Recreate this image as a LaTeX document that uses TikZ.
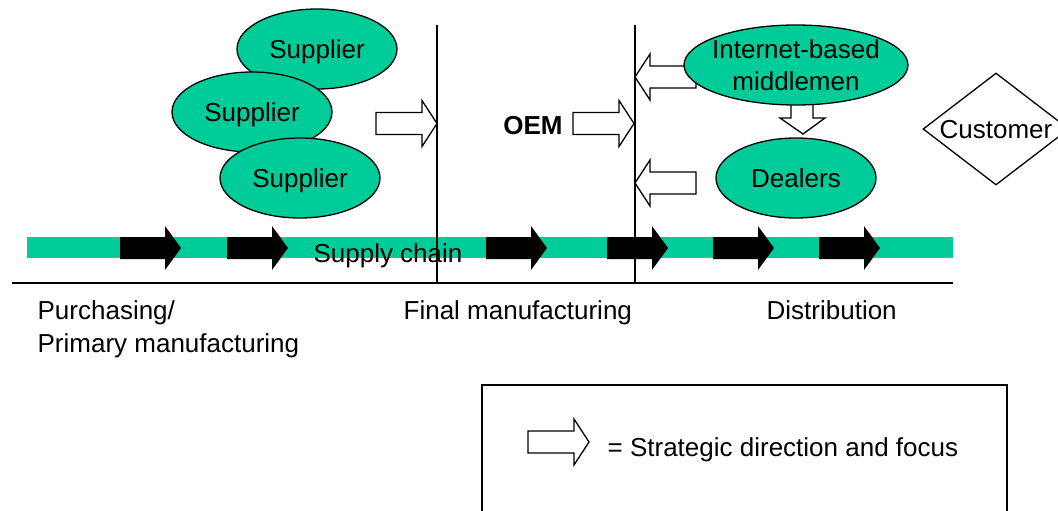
\documentclass[tikz,border=0pt]{standalone}
\usepackage{fontspec}
\setmainfont{Liberation Sans}
\usetikzlibrary{shapes.geometric}
\definecolor{chaingreen}{RGB}{0,204,153}
\newcommand\chainfont{\fontsize{26}{32}\selectfont}
\tikzset{
  chainpic/.style={x=1pt,y=-1pt,line width=1.3pt,font=\chainfont},
  player/.style={ellipse,draw,fill=chaingreen,inner sep=0pt,text depth=0pt,minimum width=160pt,minimum height=80pt},
  hollow/.style={draw,fill=white,line join=miter},
  stage/.style={anchor=base west,inner sep=0pt},
}

\begin{document}
\begin{tikzpicture}[chainpic]
    \clip (0,0) rectangle (1058,511);
    % supply chain bar and its flow arrows
    \fill[chaingreen] (27,237) rectangle (953,258);
    \foreach \x in {120,227,486,607,713,819}
      \fill (\x,237) -- ({\x+45},237) -- ({\x+45},226) -- ({\x+61},248) -- ({\x+45},270) -- ({\x+45},259) -- (\x,259) -- cycle;
    \node[text depth=0pt] (chain) at (388,253) {Supply chain};
    % stage borders and base line
    \draw (437,25) -- (437,283);
    \draw (635,25) -- (635,283);
    \draw[line width=1.8pt] (12,283) -- (953,283);
    % strategic direction arrows
    \foreach \x/\y in {376/123.5,573/123.5,528/442}
      \draw[hollow] (\x,{\y-11}) -- ({\x+46},{\y-11}) -- ({\x+46},{\y-23}) -- ({\x+61},\y) -- ({\x+46},{\y+23}) -- ({\x+46},{\y+11}) -- (\x,{\y+11}) -- cycle;
    \foreach \y in {77,183}
      \draw[hollow] (635,\y) -- (650,{\y-23}) -- (650,{\y-11}) -- (696,{\y-11}) -- (696,{\y+11}) -- (650,{\y+11}) -- (650,{\y+23}) -- cycle;
    \draw[hollow] (791,95) -- (813,95) -- (813,118) -- (825,118) -- (803,134) -- (780,118) -- (791,118) -- cycle;
    % players
    \node[player] (sup1) at (317,49) {Supplier};
    \node[player] (sup2) at (252,112) {Supplier};
    \node[player] (sup3) at (300,178) {Supplier};
    \node[font=\chainfont\bfseries] (oem) at (533,126) {OEM};
    \node[player,minimum width=224pt] (mid) at (796,65) {};
    \node[align=center] (midtext) at (mid.center) {Internet-based\\middlemen};
    \node[player] (dealers) at (796,178) {Dealers};
    \node[diamond,draw,inner sep=0pt,minimum width=146pt,minimum height=112pt] (cust) at (996,129) {};
    \node[text depth=0pt] (custtext) at (cust.center) {Customer};
    % stages
    \node[stage] (purch) at (37,319) {Purchasing/};
    \node[stage] (prim) at (37,352) {Primary manufacturing};
    \node[stage] (final) at (403,319) {Final manufacturing};
    \node[stage] (distr) at (766,319) {Distribution};
    % legend
    \draw (482,385) rectangle (1007,530);
    \node[stage] (legtext) at (607,456) {= Strategic direction and focus};
\end{tikzpicture}
\end{document}
